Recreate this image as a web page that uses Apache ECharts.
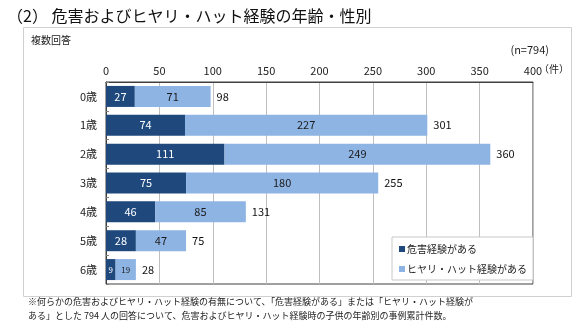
<!DOCTYPE html>
<html>
<head>
<meta charset="utf-8">
<script src="https://cdn.jsdelivr.net/npm/echarts@6/dist/echarts.min.js"></script>
<style>
  html, body { margin: 0; padding: 0; background: #fff; }
  #chart { width: 580px; height: 333px; }
</style>
</head>
<body>
<div id="chart"></div>
<script>
// 年齢別の事例件数（複数回答, n=794）
const ages = ['0歳', '1歳', '2歳', '3歳', '4歳', '5歳', '6歳'];
const harm = [27, 74, 111, 75, 46, 28, 9];          // 危害経験がある
const nearMiss = [71, 227, 249, 180, 85, 47, 19];   // ヒヤリ・ハット経験がある
const totals = [98, 301, 360, 255, 131, 75, 28];    // 合計
const xTicks = { min: 0, max: 400, step: 50 };

const FONT = '"Noto Sans CJK JP", "Noto Sans", sans-serif';
const DARK = '#1F497D';
const LIGHT = '#8EB4E3';

// 小さい棒（6歳）はラベルを小さめに
const smallLabel = (arr) => arr.map((v, i) => i === ages.length - 1 ? { value: v, label: { fontSize: 8 } } : v);

const chart = echarts.init(document.getElementById('chart'), null, { renderer: 'canvas' });

chart.setOption({
  animation: false,
  textStyle: { fontFamily: FONT },
  title: {
    text: '（2） 危害およびヒヤリ・ハット経験の年齢・性別',
    left: 2, top: 3,
    textStyle: { fontFamily: FONT, fontSize: 16, fontWeight: 'normal', color: '#111' }
  },
  grid: {
    left: 106, right: 47, top: 82, bottom: 49,
    show: true, borderColor: '#404040', borderWidth: 1, backgroundColor: 'transparent'
  },
  legend: {
    data: ['危害経験がある', 'ヒヤリ・ハット経験がある'],
    orient: 'vertical',
    right: 47, top: 237,
    backgroundColor: '#fff',
    borderColor: '#c8c8c8', borderWidth: 1,
    padding: [7, 6, 6, 7],
    itemWidth: 6, itemHeight: 6, itemGap: 10,
    icon: 'rect',
    textStyle: { fontFamily: FONT, fontSize: 10, color: '#222', padding: [0, 0, 0, -3] }
  },
  xAxis: {
    type: 'value',
    position: 'top',
    min: xTicks.min, max: xTicks.max, interval: xTicks.step,
    axisLine: { show: true, lineStyle: { color: '#404040' } },
    axisTick: { show: false },
    axisLabel: { fontFamily: FONT, fontSize: 11, color: '#222', margin: 6 },
    splitLine: { show: true, lineStyle: { color: '#bfbfbf' } }
  },
  yAxis: {
    type: 'category',
    data: ages,
    inverse: true,
    axisLine: { show: true, lineStyle: { color: '#404040' } },
    axisTick: { show: true, inside: true, length: 3, lineStyle: { color: '#808080' } },
    axisLabel: { fontFamily: FONT, fontSize: 11, color: '#222', margin: 9 }
  },
  series: [
    {
      name: '危害経験がある',
      type: 'bar', stack: 'age', barWidth: 21,
      itemStyle: { color: DARK },
      label: { show: true, position: 'inside', color: '#fff', fontSize: 11, fontFamily: FONT },
      data: smallLabel(harm)
    },
    {
      name: 'ヒヤリ・ハット経験がある',
      type: 'bar', stack: 'age', barWidth: 21,
      itemStyle: { color: LIGHT },
      label: { show: true, position: 'inside', color: '#1a1a1a', fontSize: 11, fontFamily: FONT },
      data: smallLabel(nearMiss)
    },
    {
      // 合計値ラベル用の透明な棒
      name: '合計',
      type: 'bar', barWidth: 21, barGap: '-100%',
      silent: true,
      itemStyle: { color: 'rgba(0,0,0,0)' },
      label: { show: true, position: 'right', distance: 6, color: '#111', fontSize: 11, fontFamily: FONT },
      data: totals,
      z: 1
    }
  ],
  graphic: [
    {
      type: 'rect', z: -10, silent: true,
      shape: { x: 23.5, y: 27.5, width: 548, height: 269 },
      style: { fill: 'none', stroke: '#d0d0d0', lineWidth: 1 }
    },
    {
      type: 'text', left: 31, top: 35,
      style: { text: '複数回答', font: '10px ' + FONT, fill: '#222' }
    },
    {
      type: 'text', right: 31, top: 44,
      style: { text: '(n=794)', font: '11px ' + FONT, fill: '#222' }
    },
    {
      type: 'text', left: 539, top: 64,
      style: { text: '（件）', font: '10px ' + FONT, fill: '#222' }
    },
    {
      type: 'text', left: 28, top: 295,
      style: {
        text: '※何らかの危害およびヒヤリ・ハット経験の有無について、「危害経験がある」または「ヒヤリ・ハット経験が\nある」とした 794 人の回答について、危害およびヒヤリ・ハット経験時の子供の年齢別の事例累計件数。',
        font: '9px ' + FONT, fill: '#222', lineHeight: 14
      }
    }
  ]
});
</script>
</body>
</html>
